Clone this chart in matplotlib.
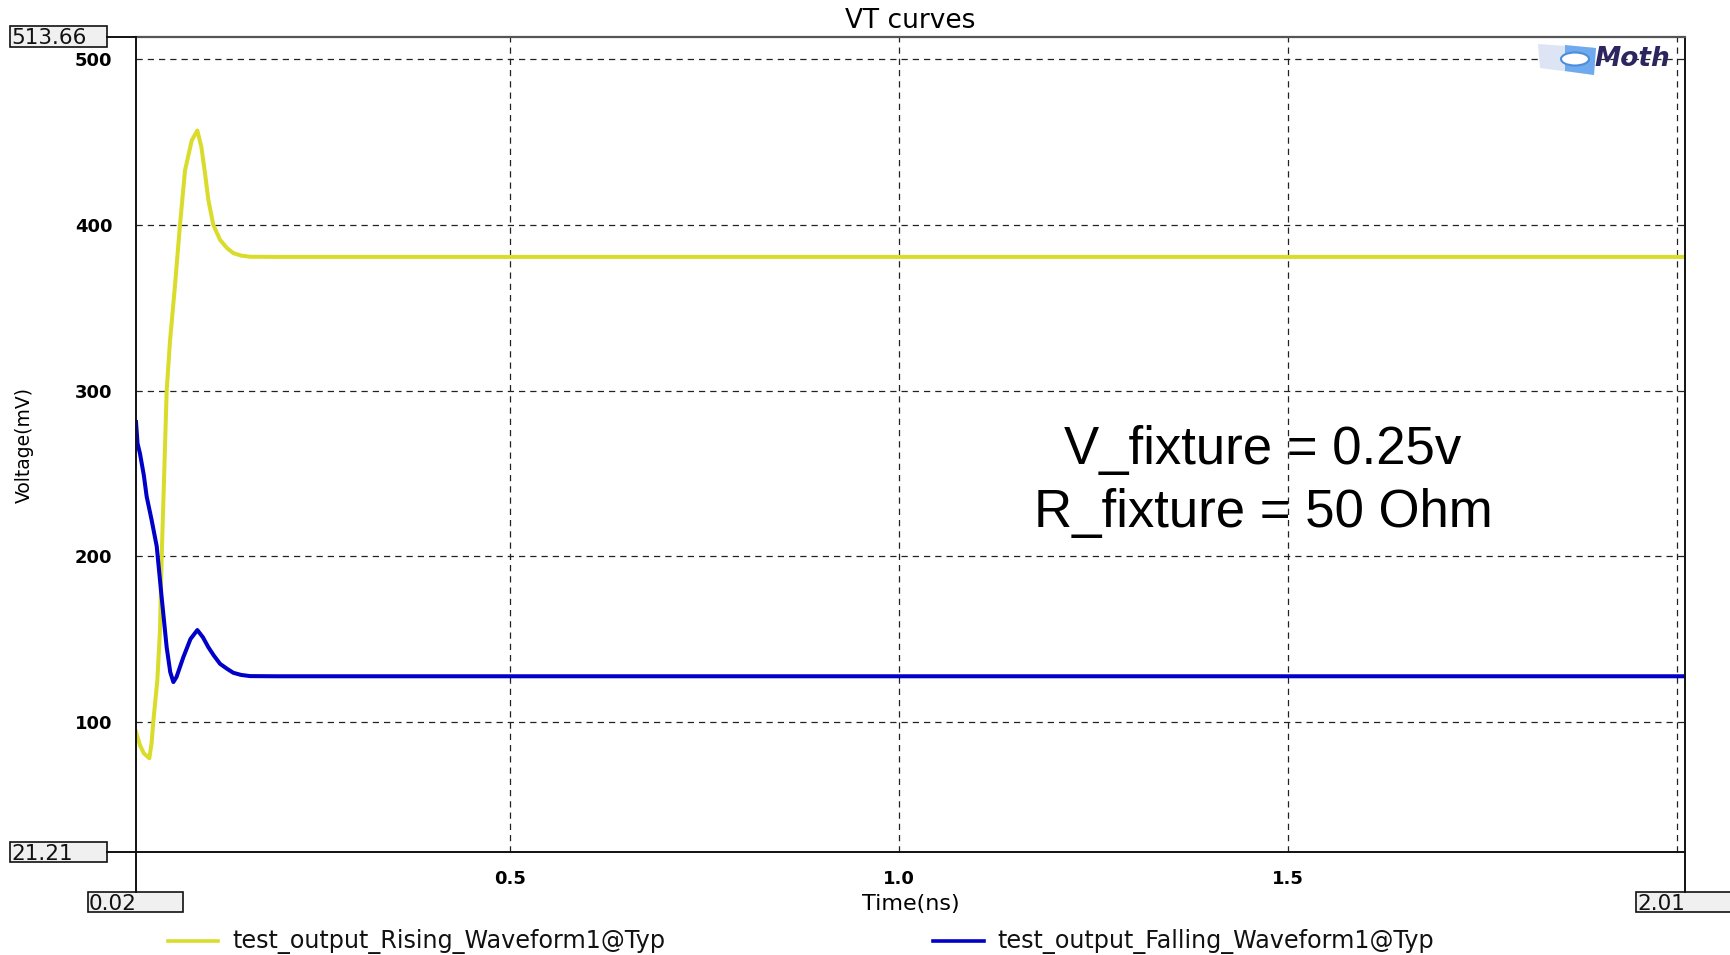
import numpy as np
import matplotlib.pyplot as plt
from matplotlib.patches import Rectangle, Polygon, Ellipse

t_rise = [0.020, 0.025, 0.030, 0.0371, 0.040, 0.0422, 0.0474, 0.0508, 0.053, 0.056, 0.0594,
          0.0637, 0.070, 0.0765, 0.083, 0.0916, 0.0988, 0.104, 0.1087, 0.113, 0.1193,
          0.128, 0.137, 0.145, 0.155, 0.1665, 0.20, 2.01]
v_rise = [94, 86, 81, 78, 87, 100, 125, 155, 200, 246, 300,
          330, 363, 400, 433, 451, 457, 447, 431, 415, 400,
          391, 386, 383, 381.5, 380.8, 380.7, 380.7]

t_fall = [0.020, 0.022, 0.0251, 0.030, 0.0337, 0.040, 0.0466, 0.053, 0.0594, 0.064,
          0.068, 0.072, 0.0808, 0.090, 0.0988, 0.106, 0.113, 0.120, 0.128, 0.137,
          0.145, 0.155, 0.1665, 0.20, 2.01]
v_fall = [281, 268, 262, 249, 236, 222, 206, 175, 145, 130,
          124, 127, 139, 150, 155.4, 151, 145, 140, 135, 132,
          129.6, 128.3, 127.6, 127.5, 127.5]

series_names = ["test_output_Rising_Waveform1@Typ", "test_output_Falling_Waveform1@Typ"]
series_colors = ["#dadc2c", "#0000c8"]

x_min, x_max = 0.02, 2.01
y_min, y_max = 21.21, 513.66
x_ticks = [0.5, 1.0, 1.5, 2.0]
x_ticklabels = ["0.5", "1.0", "1.5", ""]
y_ticks = [100, 200, 300, 400, 500]
y_ticklabels = ["100", "200", "300", "400", "500"]

W, H = 1730, 955


def fx(px):
    return px / W


def fy(py):
    return 1 - py / H


fig = plt.figure(figsize=(17.3, 9.55), dpi=100)
ax_l, ax_r, ax_t, ax_b = 136, 1685, 36.7, 852.3
ax = fig.add_axes([fx(ax_l), fy(ax_b), fx(ax_r - ax_l), (ax_b - ax_t) / H])

ax.plot(t_rise, v_rise, color=series_colors[0], lw=2.9, solid_joinstyle="round")
ax.plot(t_fall, v_fall, color=series_colors[1], lw=2.9, solid_joinstyle="round")

ax.set_xlim(x_min, x_max)
ax.set_ylim(y_min, y_max)
ax.set_xticks(x_ticks)
ax.set_xticklabels(x_ticklabels, fontweight="bold", fontsize=13)
ax.set_yticks(y_ticks)
ax.set_yticklabels(y_ticklabels, fontweight="bold", fontsize=13)
ax.tick_params(axis="both", length=0)
ax.tick_params(axis="x", pad=13)
ax.tick_params(axis="y", pad=17)
ax.grid(True, color="#222222", lw=0.9, linestyle=(0, (5, 4)))

for side in ["left", "right", "bottom"]:
    ax.spines[side].set_color("#111111")
    ax.spines[side].set_linewidth(1.4)
ax.spines["top"].set_color("#555555")
ax.spines["top"].set_linewidth(1.6)

ax.set_title("VT curves", fontsize=19, pad=6)
ax.set_xlabel("Time(ns)", fontsize=16, va="center")
ax.xaxis.set_label_coords(0.5, (ax_b - 904) / (ax_b - ax_t))
ax.set_ylabel("Voltage(mV)", fontsize=13.5, va="center")
ax.yaxis.set_label_coords((24 - ax_l) / (ax_r - ax_l), 0.5)

ax.text(1.468, 245, "V_fixture = 0.25v\nR_fixture = 50 Ohm", family="Liberation Sans",
        fontsize=38, ha="center", va="center", multialignment="center", linespacing=1.32)

# spine extensions out to the range boxes
ext = dict(color="#111111", lw=1.4, transform=fig.transFigure)
fig.add_artist(plt.Line2D([fx(107), fx(ax_l)], [fy(ax_t), fy(ax_t)], **ext))
fig.add_artist(plt.Line2D([fx(107), fx(ax_l)], [fy(ax_b), fy(ax_b)], **ext))
fig.add_artist(plt.Line2D([fx(ax_l), fx(ax_l)], [fy(ax_b), fy(891.7)], **ext))
fig.add_artist(plt.Line2D([fx(ax_r), fx(ax_r)], [fy(ax_b), fy(892.3)], **ext))

# axis range boxes
range_boxes = [(10, 25.7, 107, 46.7, "513.66"),
               (10, 841.7, 107, 862.3, "21.21"),
               (88, 891.7, 183, 912.3, "0.02"),
               (1636, 892.3, 1740, 912.3, "2.01")]
for x0, y0, x1, y1, label in range_boxes:
    fig.add_artist(Rectangle((fx(x0), fy(y1)), fx(x1 - x0), (y1 - y0) / H,
                             transform=fig.transFigure, facecolor="#f0f0f0",
                             edgecolor="#111111", lw=1.2))
    fig.text(fx(x0 + 1), fy((y0 + y1) / 2), label, fontsize=15.5, ha="left",
             va="center_baseline", color="#111111")

# logo in the top right corner
fig.add_artist(Polygon([(fx(1538), fy(44)), (fx(1596), fy(48)), (fx(1594), fy(75)),
                        (fx(1540), fy(68))], closed=True, transform=fig.transFigure,
                       facecolor="#dde4f4", edgecolor="none"))
fig.add_artist(Polygon([(fx(1565), fy(45)), (fx(1596), fy(48)), (fx(1594), fy(75)),
                        (fx(1565), fy(71))], closed=True, transform=fig.transFigure,
                       facecolor="#6fa9ee", edgecolor="none"))
fig.add_artist(Ellipse((fx(1575), fy(59)), fx(28), 13 / H, transform=fig.transFigure,
                       facecolor="white", edgecolor="#4d8de0", lw=1.5))
fig.text(fx(1594), fy(59), "Moth", fontsize=19, fontweight="bold", style="italic",
         color="#2b2560", ha="left", va="center")

# legend along the bottom edge
legend_rows = [(168, 218, 232), (933, 984, 997)]
for (lx0, lx1, tx), name, color in zip(legend_rows, series_names, series_colors):
    fig.add_artist(plt.Line2D([fx(lx0), fx(lx1)], [fy(941), fy(941)], color=color, lw=2.6,
                              transform=fig.transFigure))
    fig.text(fx(tx), fy(941), name, fontsize=17.2, ha="left", va="center", color="#111111")

fig.savefig("out.png", dpi=100, facecolor="white")
